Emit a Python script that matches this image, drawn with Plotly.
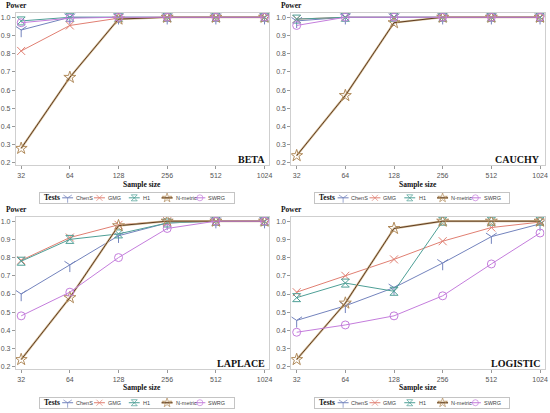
import plotly.graph_objects as go

# ---------------- data ----------------
sample_sizes = ["32", "64", "128", "256", "512", "1024"]
tests = ["ChenS", "GMG", "H1", "N-metric", "SWRG"]
panels = ["BETA", "CAUCHY", "LAPLACE", "LOGISTIC"]

beta_chens = [0.93, 1.0, 1.0, 1.0, 1.0, 1.0]
beta_gmg = [0.815, 0.955, 0.995, 1.0, 1.0, 1.0]
beta_h1 = [0.98, 1.0, 1.0, 1.0, 1.0, 1.0]
beta_nmetric = [0.28, 0.67, 0.99, 1.0, 1.0, 1.0]
beta_swrg = [0.97, 0.995, 1.0, 1.0, 1.0, 1.0]

cauchy_chens = [0.98, 1.0, 1.0, 1.0, 1.0, 1.0]
cauchy_gmg = [0.99, 1.0, 1.0, 1.0, 1.0, 1.0]
cauchy_h1 = [0.99, 1.0, 1.0, 1.0, 1.0, 1.0]
cauchy_nmetric = [0.24, 0.57, 0.97, 1.0, 1.0, 1.0]
cauchy_swrg = [0.955, 1.0, 1.0, 1.0, 1.0, 1.0]

laplace_chens = [0.60, 0.76, 0.92, 0.99, 1.0, 1.0]
laplace_gmg = [0.785, 0.91, 0.98, 1.0, 1.0, 1.0]
laplace_h1 = [0.78, 0.90, 0.93, 0.99, 1.0, 1.0]
laplace_nmetric = [0.24, 0.58, 0.975, 1.0, 1.0, 1.0]
laplace_swrg = [0.48, 0.61, 0.80, 0.96, 1.0, 1.0]

logistic_chens = [0.455, 0.535, 0.635, 0.77, 0.915, 0.985]
logistic_gmg = [0.61, 0.70, 0.79, 0.89, 0.965, 0.995]
logistic_h1 = [0.58, 0.66, 0.615, 1.0, 1.0, 1.0]
logistic_nmetric = [0.24, 0.55, 0.96, 1.0, 1.0, 1.0]
logistic_swrg = [0.39, 0.43, 0.48, 0.59, 0.765, 0.935]

panel_data = [
    [beta_chens, beta_gmg, beta_h1, beta_nmetric, beta_swrg],
    [cauchy_chens, cauchy_gmg, cauchy_h1, cauchy_nmetric, cauchy_swrg],
    [laplace_chens, laplace_gmg, laplace_h1, laplace_nmetric, laplace_swrg],
    [logistic_chens, logistic_gmg, logistic_h1, logistic_nmetric, logistic_swrg],
]

# ---------------- styles ----------------
W, H = 550, 413
SANS = "Liberation Sans Narrow, Arial Narrow, Liberation Sans, Arial, sans-serif"
SERIF = "Liberation Serif, Times New Roman, serif"
colors = ["#7383bd", "#e07f72", "#4e9f96", "#5e3d22", "#c47ddc"]
marker_colors = ["#7383bd", "#e07f72", "#4e9f96", "#b08a5a", "#c47ddc"]
symbols = ["y-down", "x-thin", "hourglass-open", "star-open", "circle-open"]
msizes = [9, 8, 8, 9, 8]
key_msizes = [7, 6, 6, 7, 6]
nmetric_under = "#d6be9a"
AXIS_LINE = "#cfcfcf"

# geometry in pixels
plot_x = [(16, 270.5), (293, 547.5)]
plot_y = [(13, 165.7), (217.4, 370.1)]
legend_dx, legend_w = 24, 195
legend_top = [193.3, 398.7]
legend_h = 10
key_center = [28, 60, 95, 128, 161]
key_half = 5.5
key_text = [34, 66.5, 102, 134.5, 167.5]
XR = [-0.108, 5.092]
YR = [0.187, 1.0236]


def px(x):
    return x / W


def py(y):
    return 1 - y / H


fig = go.Figure()
layout = dict(
    width=W, height=H, margin=dict(l=0, r=0, t=0, b=0),
    paper_bgcolor="white", plot_bgcolor="white", showlegend=False,
    font=dict(family=SANS, size=6.5, color="#555555"),
)
annotations = []

for p, name in enumerate(panels):
    col, row = p % 2, p // 2
    ax = p + 1
    lx = p + 5
    xa, ya = f"x{ax}", f"y{ax}"
    x0, x1 = plot_x[col]
    y0, y1 = plot_y[row]
    layout[f"xaxis{ax}"] = dict(
        domain=[px(x0), px(x1)], anchor=ya, type="category",
        categoryorder="array", categoryarray=sample_sizes, range=XR,
        showline=True, mirror=True, linecolor=AXIS_LINE, linewidth=1,
        ticks="outside", ticklen=3, tickcolor="#999999", showgrid=False,
        zeroline=False, tickfont=dict(family=SANS, size=7, color="#555555"),
        fixedrange=True,
    )
    layout[f"yaxis{ax}"] = dict(
        domain=[py(y1), py(y0)], anchor=xa, range=YR,
        tickmode="array", tickvals=[0.2, 0.3, 0.4, 0.5, 0.6, 0.7, 0.8, 0.9, 1.0],
        tickformat=".1f",
        showline=True, mirror=True, linecolor=AXIS_LINE, linewidth=1,
        ticks="outside", ticklen=3, tickcolor="#999999", showgrid=False,
        zeroline=False, tickfont=dict(family=SANS, size=7, color="#555555"),
        fixedrange=True,
    )

    for i, t in enumerate(tests):
        vals = panel_data[p][i]
        if t == "N-metric":
            fig.add_trace(go.Scatter(
                x=sample_sizes, y=vals, mode="lines", xaxis=xa, yaxis=ya,
                line=dict(color=nmetric_under, width=2.2), hoverinfo="skip",
                showlegend=False))
        fig.add_trace(go.Scatter(
            x=sample_sizes, y=vals, mode="lines+markers", name=t,
            xaxis=xa, yaxis=ya, showlegend=False,
            line=dict(color=colors[i], width=1),
            marker=dict(symbol=symbols[i], size=msizes[i], color=marker_colors[i],
                        line=dict(color=marker_colors[i], width=1)),
        ))

    # text: Power, Sample size, panel label
    annotations.append(dict(
        text="<b>Power</b>", xref="paper", yref="paper",
        x=px(x0 - 12), y=py(y0 - 7), xanchor="left", yanchor="middle",
        showarrow=False, font=dict(family=SERIF, size=7.5, color="#111111")))
    annotations.append(dict(
        text="<b>Sample size</b>", xref="paper", yref="paper",
        x=px((x0 + x1) / 2), y=py(y1 + 18.8), xanchor="center", yanchor="middle",
        showarrow=False, font=dict(family=SERIF, size=7.5, color="#111111")))
    annotations.append(dict(
        text=f"<b>{name}</b>", xref="paper", yref="paper",
        x=px(x1 - 2.5), y=py(y1 - 6), xanchor="right", yanchor="middle",
        showarrow=False, font=dict(family=SERIF, size=10, color="#111111")))

    # legend box as its own small axis
    lxa, lya = f"x{lx}", f"y{lx}"
    bx0 = x0 + legend_dx
    by0 = legend_top[row]
    layout[f"xaxis{lx}"] = dict(
        domain=[px(bx0), px(bx0 + legend_w)], anchor=lya, range=[0, legend_w],
        showline=True, mirror=True, linecolor="#c4c4c4", linewidth=1,
        showticklabels=False, ticks="", showgrid=False, zeroline=False,
        fixedrange=True)
    layout[f"yaxis{lx}"] = dict(
        domain=[py(by0 + legend_h), py(by0)], anchor=lxa, range=[0, 1],
        showline=True, mirror=True, linecolor="#c4c4c4", linewidth=1,
        showticklabels=False, ticks="", showgrid=False, zeroline=False,
        fixedrange=True)
    annotations.append(dict(
        text="<b>Tests</b>", xref=lxa, yref=lya, x=2, y=0.5,
        xanchor="left", yanchor="middle", showarrow=False,
        font=dict(family=SERIF, size=7.5, color="#111111")))
    for i, t in enumerate(tests):
        c = key_center[i]
        kx = [c - key_half, c, c + key_half]
        if t == "N-metric":
            fig.add_trace(go.Scatter(
                x=kx, y=[0.5, 0.5, 0.5], mode="lines", xaxis=lxa, yaxis=lya,
                line=dict(color=nmetric_under, width=2.2), hoverinfo="skip",
                showlegend=False))
        fig.add_trace(go.Scatter(
            x=kx, y=[0.5, 0.5, 0.5], mode="lines+markers", xaxis=lxa, yaxis=lya,
            showlegend=False, hoverinfo="skip",
            line=dict(color=colors[i], width=1),
            marker=dict(symbol=symbols[i], size=[0, key_msizes[i], 0],
                        color=marker_colors[i],
                        line=dict(color=marker_colors[i], width=1)),
        ))
        annotations.append(dict(
            text=t, xref=lxa, yref=lya, x=key_text[i], y=0.5,
            xanchor="left", yanchor="middle", showarrow=False,
            font=dict(family=SANS, size=5.5, color="#444444")))

layout["annotations"] = annotations
fig.update_layout(**layout)
fig.write_html(
    "out.html",
    config={"displayModeBar": False},
    post_script="document.body.style.margin='0';document.body.style.padding='0';",
)
